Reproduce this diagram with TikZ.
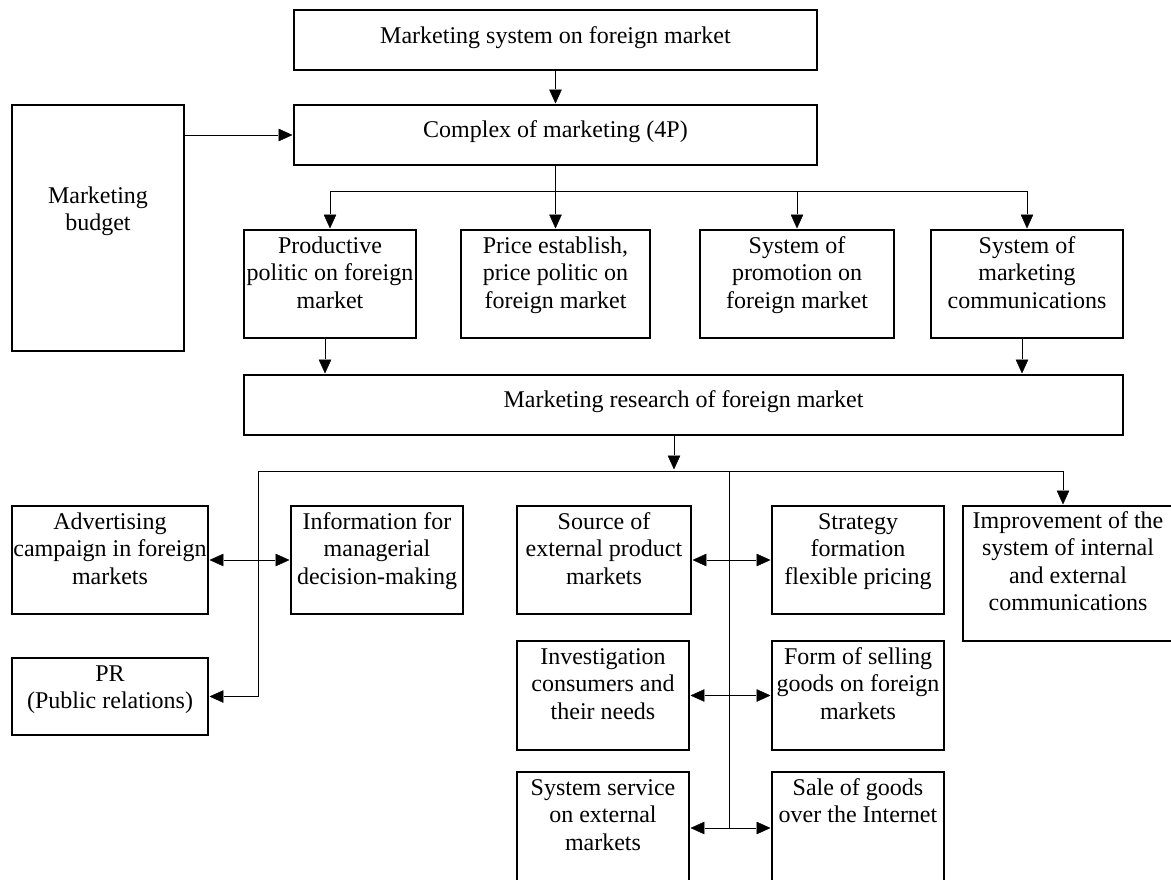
\documentclass[tikz,border=0pt]{standalone}
\usepackage{fontspec}
\setmainfont{Liberation Serif}
\usepackage{tikz}
\usetikzlibrary{arrows.meta}

\tikzstyle{block} = [draw, rectangle, line width=1.6pt, inner sep=0pt, outer sep=0pt,
    anchor=north west, font=\fontsize{24}{27.6}\selectfont]
% width, height, first baseline, text
\def\bx#1#2#3#4{\parbox[c][#2pt][t]{#1pt}{\centering\rule{0pt}{#3pt}#4\par}}

\begin{document}
\begin{tikzpicture}[x=1pt,y=-1pt]
\useasboundingbox (0,0) rectangle (1171,879);
\tikzset{>={Triangle[length=16pt,width=14pt]}, line width=1.6pt}

\node[block] (sys) at (294,10) {\bx{523}{60}{33}{Marketing system on foreign market}};
\node[block] (mix) at (294,105) {\bx{523}{60}{32}{Complex of marketing (4P)}};
\node[block] (budget) at (12,105) {\bx{172}{246}{98}{Marketing\\budget}};

\node[block] (prod) at (244,230) {\bx{172}{108}{23}{Productive\\politic on foreign\\market}};
\node[block] (price) at (461,230) {\bx{189}{108}{23}{Price establish,\\price politic on\\foreign market}};
\node[block] (promo) at (700,230) {\bx{194}{108}{23}{System of\\promotion on\\foreign market}};
\node[block] (comm) at (931,230) {\bx{192}{108}{23}{System of\\marketing\\communications}};

\node[block] (research) at (244,375) {\bx{879}{60}{32}{Marketing research of foreign market}};

\node[block] (adv) at (12,506) {\bx{196}{108}{23}{Advertising\\campaign in foreign\\markets}};
\node[block] (info) at (291,506) {\bx{172}{108}{23}{Information for\\managerial\\decision-making}};
\node[block] (pr) at (12,658) {\bx{196}{77}{23}{PR\\(Public relations)}};
\node[block] (source) at (517,506) {\bx{174}{108}{23}{Source of\\external product\\markets}};
\node[block] (strat) at (772,506) {\bx{172}{108}{23}{Strategy\\formation\\flexible pricing}};
\node[block] (invest) at (517,641) {\bx{172}{109}{23}{Investigation\\consumers and\\their needs}};
\node[block] (form) at (772,641) {\bx{172}{109}{23}{Form of selling\\goods on foreign\\markets}};
\node[block] (service) at (517,772) {\bx{172}{112}{23}{System service\\on external\\markets}};
\node[block] (sale) at (772,772) {\bx{172}{112}{23}{Sale of goods\\over the Internet}};
\node[block] (improve) at (963,506) {\bx{214}{135}{22}{\hspace*{-4pt}Improvement of the\\\hspace*{-4pt}system of internal\\\hspace*{-4pt}and external\\\hspace*{-4pt}communications}};

% top part
\draw[->] (sys) -- (mix);
\draw[->] (budget.east |- mix) -- (mix);
\coordinate (fork) at (555.5,191);
\draw[->] (mix) -- (price);
\draw (prod.north |- fork) -- (comm.north |- fork);
\draw[->] (prod.north |- fork) -- (prod);
\draw[->] (promo.north |- fork) -- (promo);
\draw[->] (comm.north |- fork) -- (comm);
\draw[->] ([xshift=-5pt]prod.south) -- ([xshift=-5pt]prod.south |- research.north);
\draw[->] ([xshift=-5pt]comm.south) -- ([xshift=-5pt]comm.south |- research.north);

% lower part
\coordinate (hub) at (674,471);
\coordinate (hl) at (258,471);
\coordinate (hr) at (1063,471);
\coordinate (mv) at (729,471);
\draw[->] (research.south -| hub) -- (hub);
\draw (hl) -- (hr);
\draw[->] (hr) -- (hr |- improve.north);
\draw[->] (hl) |- (pr);
\draw[<->] (adv) -- (info);
\draw (mv) -- (mv |- service);
\draw[<->] (source) -- (strat);
\draw[<->] (invest) -- (form);
\draw[<->] (service) -- (sale);

\end{tikzpicture}
\end{document}
